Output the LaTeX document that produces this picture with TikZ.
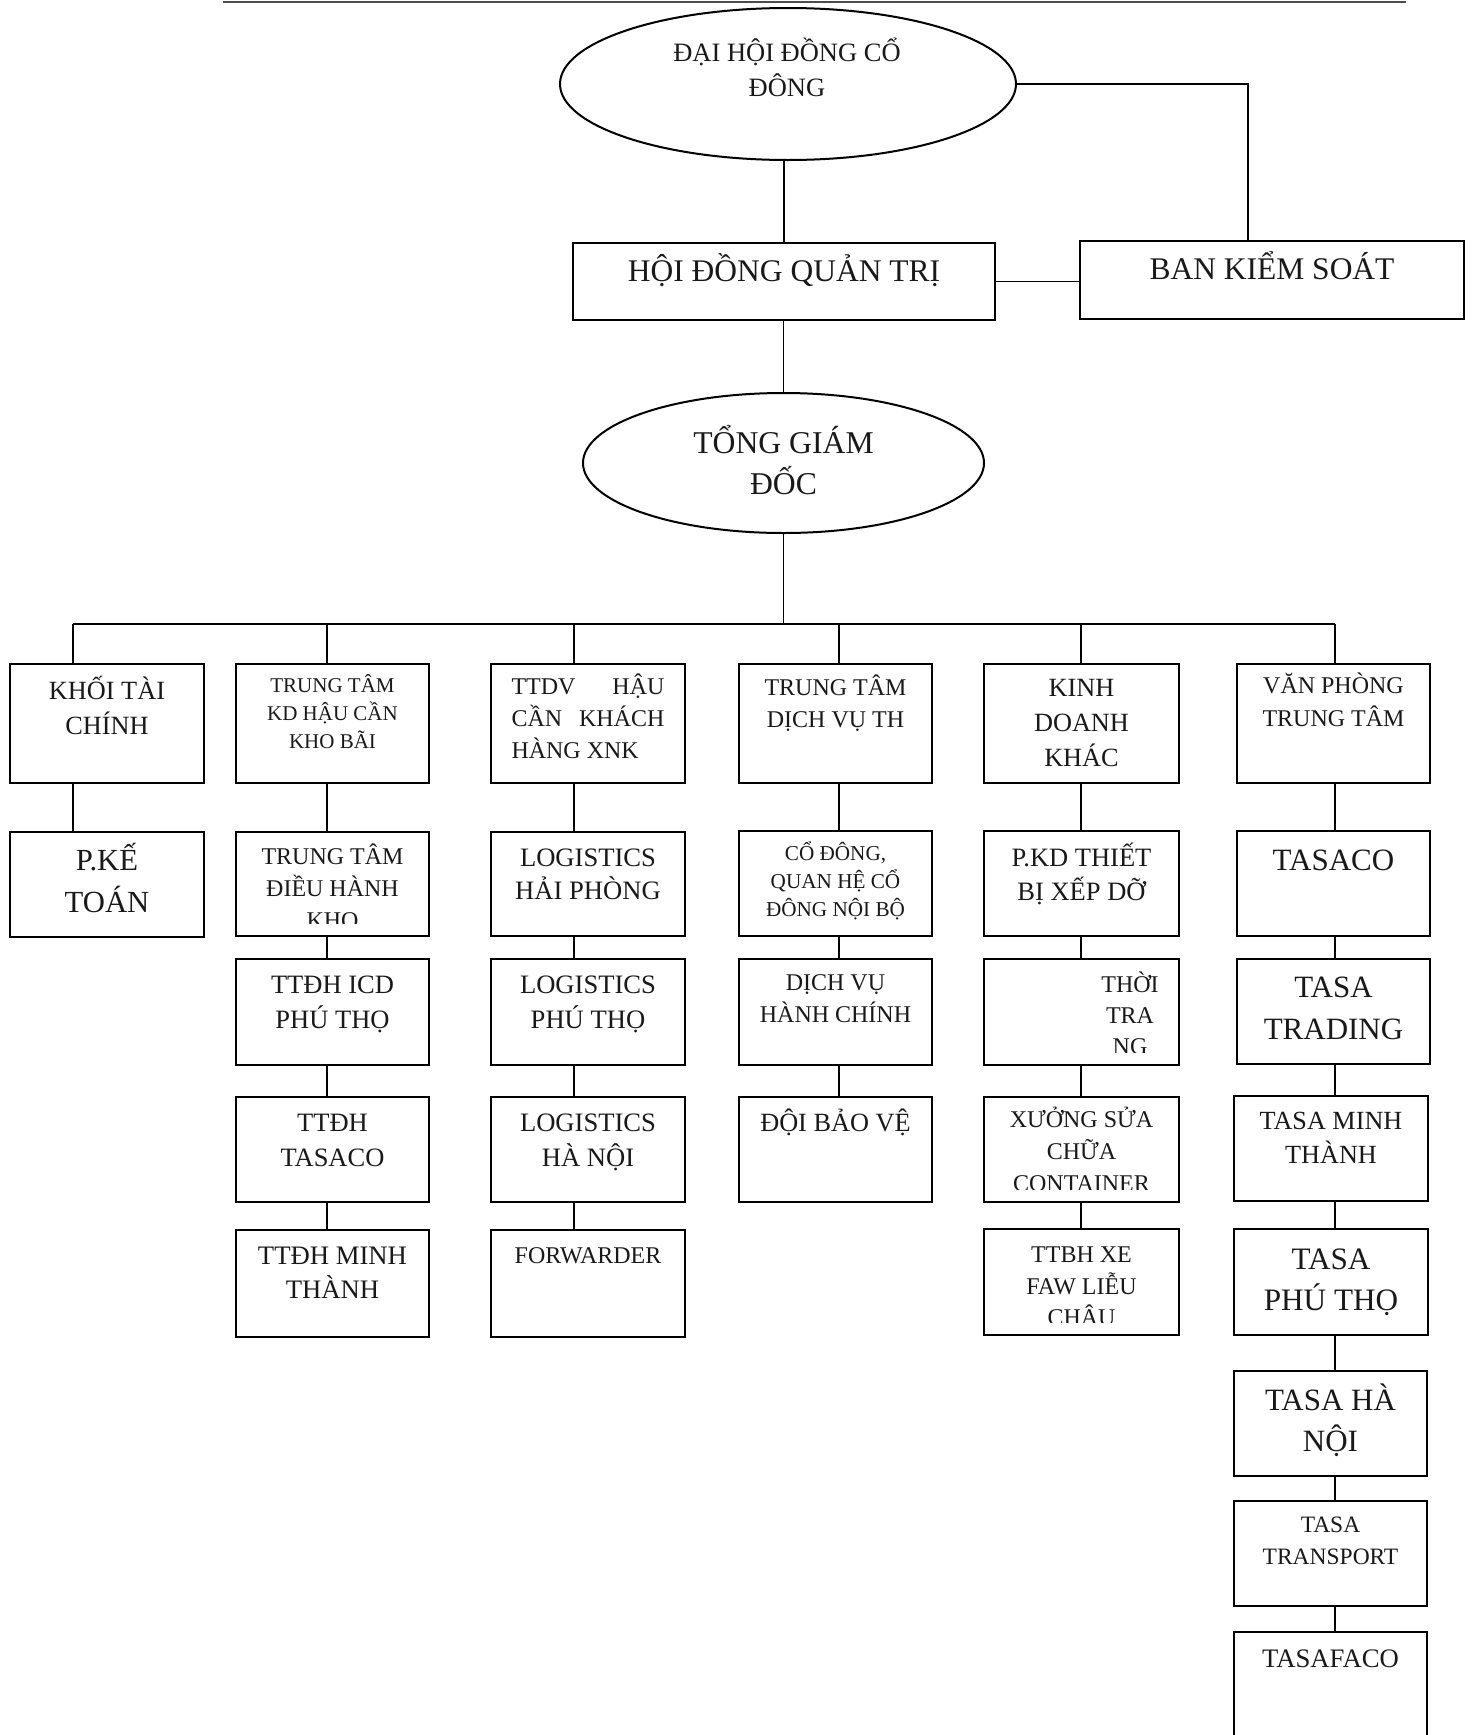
\documentclass[tikz,border=0pt]{standalone}
\usepackage{fontspec}
\setmainfont{Liberation Serif}
\usetikzlibrary{fit,shapes.geometric}
\newcommand\fs[2]{\fontsize{#1}{#2}\selectfont}
\tikzset{
  obox/.style={draw=black, line width=2.2pt, rectangle, inner sep=0pt, outer sep=0pt},
  oell/.style={draw=black, line width=2pt, ellipse, inner sep=0pt, outer sep=0pt},
  txt/.style={anchor=north, inner sep=0pt, outer sep=0pt, align=center, text=black!90},
  conn/.style={draw=black, line width=1.8pt},
}
% name, x1, y1, x2, y2, text x, text top y, text options, text
\newcommand\ob[9]{%
  \node[obox, fit={(#2,#3) (#4,#5)}] (#1) {};
  \begin{scope}
    \clip ([yshift=13pt]#1.south west) rectangle (#1.north east);
    \node[txt, #8] (#1t) at (#6,#7) {\strut #9};
  \end{scope}
}
\begin{document}
\begin{tikzpicture}[x=1pt, y=-1pt]
\useasboundingbox (0,0) rectangle (1475,1735);
\fill[white] (0,0) rectangle (1475,1735);
% header rule
\draw[line width=2pt, black!70] (223,2) -- (1406,2);

% top
\node[oell, minimum width=456pt, minimum height=152pt] (dh) at (788,84) {};
\node[txt, font=\fs{26.5}{35}] (dht) at (787,37.2) {\strut ĐẠI HỘI ĐỒNG CỔ\\ĐÔNG};
\ob{hdqt}{573}{243}{995}{320}{784}{253.4}{font=\fs{31.5}{40}}{HỘI ĐỒNG QUẢN TRỊ}
\ob{bks}{1080}{241}{1464}{319}{1272}{251.4}{font=\fs{31.5}{40}}{BAN KIỂM SOÁT}
\node[oell, minimum width=401pt, minimum height=140pt] (tgd) at (783.5,463) {};
\node[txt, font=\fs{31.7}{41}] (tgdt) at (783.5,424.8) {\strut TỔNG GIÁM\\ĐỐC};

\coordinate (bkx) at (1248,0);
\draw[conn] (dh.south -| hdqt.north) -- (hdqt.north);
\draw[conn] (dh.east) -| (bkx |- bks.north);
\draw[conn] (hdqt.east) -- (hdqt.east -| bks.west);
\draw[conn] (hdqt.south) -- (hdqt.south -| tgd.north) -- (tgd.north);

% row 1
\ob{k1}{10}{664}{204}{783}{107}{674.7}{font=\fs{26.3}{35}}{KHỐI TÀI\\CHÍNH}
\ob{k2}{236}{664}{429}{783}{332.5}{673.3}{font=\fs{21}{28}}{TRUNG TÂM\\KD HẬU CẦN\\KHO BÃI}
\ob{k3}{491}{664}{685}{783}{588}{672.5}{font=\fs{24}{32}, align=left}{\hbox to 153pt{TTDV\hfill HẬU}\\\hbox to 153pt{CẦN\hfill KHÁCH}\\HÀNG XNK}
\ob{k4}{739}{664}{932}{783}{835.5}{673.5}{font=\fs{24}{32}}{TRUNG TÂM\\DỊCH VỤ TH}
\ob{k5}{984}{664}{1179}{783}{1081.5}{672.2}{font=\fs{26.3}{35}}{KINH\\DOANH\\KHÁC}
\ob{k6}{1237}{664}{1430}{783}{1333.5}{670.8}{font=\fs{24}{33}}{VĂN PHÒNG\\TRUNG TÂM}

% row 2
\ob{a1}{10}{832}{204}{937}{107}{840.7}{font=\fs{30.7}{42}}{P.KẾ\\TOÁN}
\ob{a2}{236}{832}{429}{936}{332.5}{842}{font=\fs{24}{32}}{TRUNG TÂM\\ĐIỀU HÀNH\\KHO}
\ob{a3}{491}{832}{685}{936}{588}{843.7}{font=\fs{26.6}{33}}{LOGISTICS\\HẢI PHÒNG}
\ob{a4}{739}{831}{932}{936}{835.5}{840.4}{font=\fs{21.2}{28}}{CỔ ĐÔNG,\\QUAN HỆ CỔ\\ĐÔNG NỘI BỘ}
\ob{a5}{984}{831}{1179}{936}{1081.5}{842.8}{font=\fs{26.5}{32}}{P.KD THIẾT\\BỊ XẾP DỠ}
\ob{a6}{1237}{831}{1430}{936}{1333.5}{840.8}{font=\fs{31}{42}}{TASACO}

% row 3
\ob{b2}{236}{959}{429}{1065}{332.5}{969.2}{font=\fs{26.5}{35}}{TTĐH ICD\\PHÚ THỌ}
\ob{b3}{491}{959}{685}{1065}{588}{969.2}{font=\fs{26.6}{35}}{LOGISTICS\\PHÚ THỌ}
\ob{b4}{739}{959}{932}{1065}{835.5}{968.5}{font=\fs{24}{32}}{DỊCH VỤ\\HÀNH CHÍNH}
\ob{b5}{984}{959}{1179}{1065}{1130}{970.5}{font=\fs{24}{31}}{THỜI\\TRA\\NG}
\ob{b6}{1237}{959}{1430}{1064}{1333.5}{967.8}{font=\fs{31}{42}}{TASA\\TRADING}

% row 4
\ob{d2}{236}{1097}{429}{1202}{332.5}{1107.2}{font=\fs{26.5}{35}}{TTĐH\\TASACO}
\ob{d3}{491}{1097}{685}{1202}{588}{1107.2}{font=\fs{26.6}{35}}{LOGISTICS\\HÀ NỘI}
\ob{d4}{739}{1097}{932}{1202}{835.5}{1107.2}{font=\fs{26.3}{35}}{ĐỘI BẢO VỆ}
\ob{d5}{984}{1097}{1179}{1202}{1081.5}{1105.5}{font=\fs{24}{32}}{XƯỞNG SỬA\\CHỮA\\CONTAINER}
\ob{d6}{1234}{1096}{1428}{1201}{1331}{1105.8}{font=\fs{26.2}{34}}{TASA MINH\\THÀNH}

% row 5
\ob{e2}{236}{1230}{429}{1337}{332.5}{1241}{font=\fs{26.7}{34}}{TTĐH MINH\\THÀNH}
\ob{e3}{491}{1230}{685}{1337}{588}{1241.5}{font=\fs{24}{32}}{FORWARDER}
\ob{e5}{984}{1229}{1179}{1335}{1081.5}{1241.2}{font=\fs{24}{31}}{TTBH XE\\FAW LIỄU\\CHÂU}
\ob{e6}{1234}{1229}{1428}{1335}{1331}{1240.6}{font=\fs{31.2}{41}}{TASA\\PHÚ THỌ}

% column 6 continued
\ob{f6}{1234}{1371}{1427}{1476}{1330.5}{1381.5}{font=\fs{31}{41}}{TASA HÀ\\NỘI}
\ob{g6}{1234}{1501}{1427}{1606}{1330.5}{1510.4}{font=\fs{23.5}{32}}{TASA\\TRANSPORT}
\ob{h6}{1234}{1632}{1427}{1750}{1330.5}{1643.3}{font=\fs{26.7}{35}}{TASAFACO}

% bus
\coordinate (c1) at (73,624);
\coordinate (c2) at (327,624);
\coordinate (c3) at (574,624);
\coordinate (c4) at (839,624);
\coordinate (c5) at (1081,624);
\coordinate (c6) at (1335,624);
\draw[conn] (tgd.south) -- (tgd.south |- c1);
\draw[conn] (c1) -- (c6);
\foreach \c/\a in {c1/k1, c2/k2, c3/k3, c4/k4, c5/k5, c6/k6}
  \draw[conn] (\c) -- (\c |- \a.north);
\foreach \c/\a/\b in {c1/k1/a1,
    c2/k2/a2, c2/a2/b2, c2/b2/d2, c2/d2/e2,
    c3/k3/a3, c3/a3/b3, c3/b3/d3, c3/d3/e3,
    c4/k4/a4, c4/a4/b4, c4/b4/d4,
    c5/k5/a5, c5/a5/b5, c5/b5/d5, c5/d5/e5,
    c6/k6/a6, c6/a6/b6, c6/b6/d6, c6/d6/e6, c6/e6/f6, c6/f6/g6, c6/g6/h6}
  \draw[conn] (\c |- \a.south) -- (\c |- \b.north);
\end{tikzpicture}
\end{document}
